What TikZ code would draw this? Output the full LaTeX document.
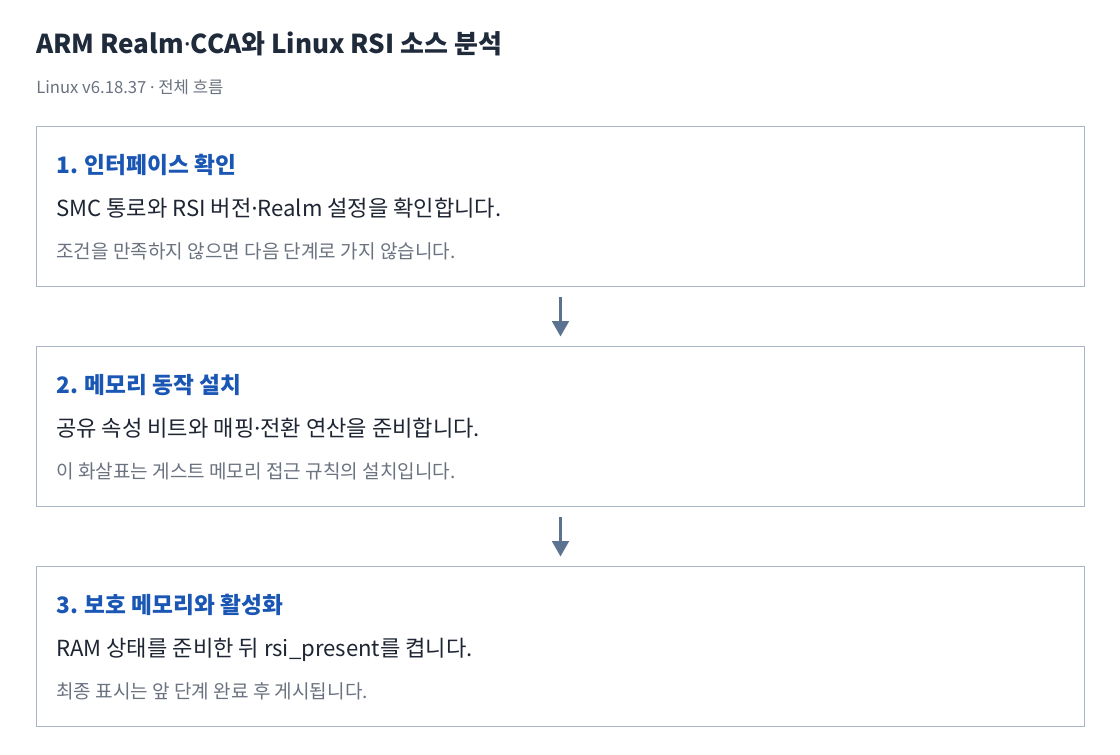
\documentclass[tikz,border=0pt]{standalone}
\usepackage{fontspec}
\setmainfont{Noto Sans CJK KR}
\newfontfamily\latinfont{Noto Sans}
\newcommand{\mdot}{{\latinfont ·}}
\usetikzlibrary{arrows.meta}
\definecolor{titlec}{HTML}{1F2A3B}
\definecolor{headc}{HTML}{1A56B4}
\definecolor{bodyc}{HTML}{1E2533}
\definecolor{notec}{HTML}{6B7280}
\definecolor{borderc}{HTML}{AAB6C6}
\definecolor{arrowc}{HTML}{5B7290}
\tikzset{
  stepbox/.style={draw=borderc, line width=1pt, fill=white},
  titletext/.style={anchor=base west, inner sep=0pt, text=titlec, font=\fontsize{19.5pt}{23pt}\selectfont\bfseries},
  subtext/.style={anchor=base west, inner sep=0pt, text=notec, font=\fontsize{12.5pt}{15pt}\selectfont},
  headtext/.style={anchor=base west, inner sep=0pt, text=headc, font=\fontsize{17pt}{20pt}\selectfont\bfseries},
  bodytext/.style={anchor=base west, inner sep=0pt, text=bodyc, font=\fontsize{16.6pt}{20pt}\selectfont},
  notetext/.style={anchor=base west, inner sep=0pt, text=notec, font=\fontsize{14.3pt}{17pt}\selectfont},
  flow/.style={draw=arrowc, line width=1.9pt, -{Triangle[length=11.5pt,width=12.5pt]}}
}
\begin{document}
\begin{tikzpicture}[x=0.75pt,y=-0.75pt]
\useasboundingbox (0,0) rectangle (1120,754);
\fill[white] (0,0) rectangle (1120,754);
\node[titletext] (title) at (36,53) {ARM Realm\mdot CCA와 Linux RSI 소스 분석};
\node[subtext] (sub) at (36,93) {Linux v6.18.37 \mdot{} 전체 흐름};
% boxes
\draw[stepbox] (36.5,126.5) rectangle (1084.5,286.5);
\draw[stepbox] (36.5,346.5) rectangle (1084.5,506.5);
\draw[stepbox] (36.5,566.5) rectangle (1084.5,726.5);
\coordinate (b1s) at (560.5,286.5);
\coordinate (b2n) at (560.5,346.5);
\coordinate (b2s) at (560.5,506.5);
\coordinate (b3n) at (560.5,566.5);
\node[headtext] (h1) at (56,173) {1. 인터페이스 확인};
\node[bodytext] (t1) at (56,216) {SMC 통로와 RSI 버전\mdot Realm 설정을 확인합니다.};
\node[notetext] (n1) at (56,258) {조건을 만족하지 않으면 다음 단계로 가지 않습니다.};
\node[headtext] (h2) at (56,393) {2. 메모리 동작 설치};
\node[bodytext] (t2) at (56,436) {공유 속성 비트와 매핑\mdot 전환 연산을 준비합니다.};
\node[notetext] (n2) at (56,478) {이 화살표는 게스트 메모리 접근 규칙의 설치입니다.};
\node[headtext] (h3) at (56,613) {3. 보호 메모리와 활성화};
\node[bodytext] (t3) at (56,656) {RAM 상태를 준비한 뒤 rsi\_present를 켭니다.};
\node[notetext] (n3) at (56,698) {최종 표시는 앞 단계 완료 후 게시됩니다.};
\draw[flow] ([yshift=-7.5pt]b1s) -- ([yshift=7.5pt]b2n);
\draw[flow] ([yshift=-7.5pt]b2s) -- ([yshift=7.5pt]b3n);
\end{tikzpicture}
\end{document}
